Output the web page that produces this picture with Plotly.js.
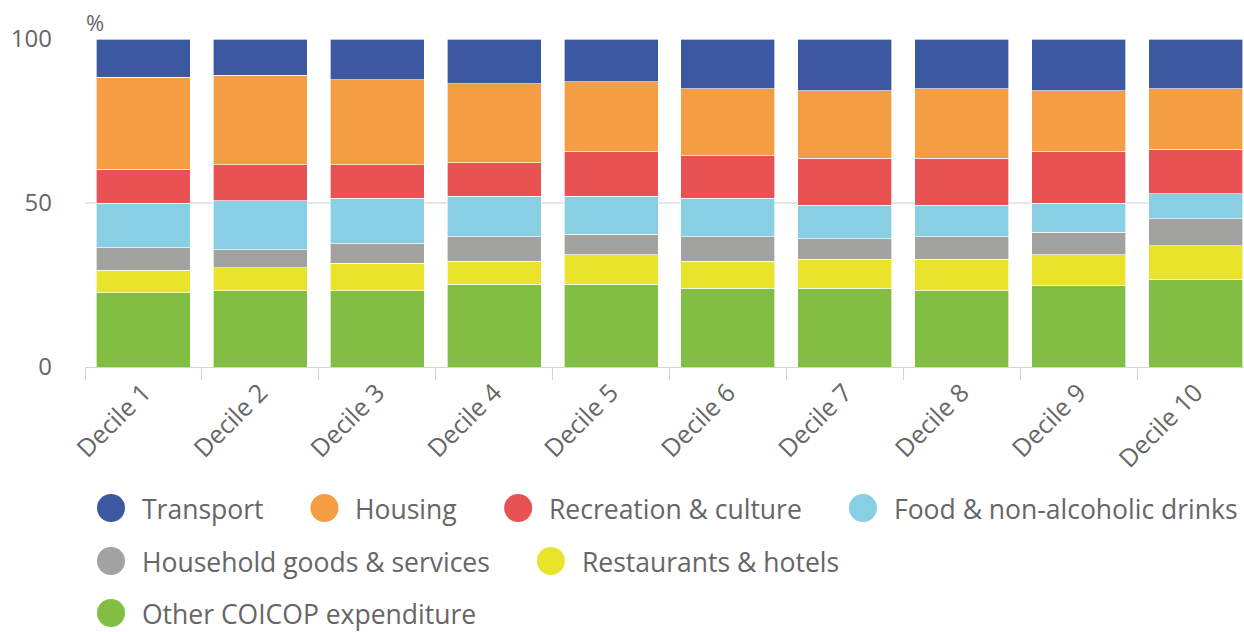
<!DOCTYPE html>
<html>
<head>
<meta charset="utf-8">
<script src="https://cdn.plot.ly/plotly-3.0.1.min.js"></script>
<style>
html,body{margin:0;padding:0;background:#fff;}
#chart{width:1244px;height:632px;}
</style>
</head>
<body>
<div id="chart"></div>
<script>
// ---- data ----
const categories = ["Decile 1","Decile 2","Decile 3","Decile 4","Decile 5","Decile 6","Decile 7","Decile 8","Decile 9","Decile 10"];
const other       = [22.6, 23.3, 23.3, 25.3, 25.3, 24.0, 24.0, 23.3, 24.7, 26.8];
const restaurants = [6.9, 6.9, 8.3, 7.0, 8.9, 8.3, 8.9, 9.6, 9.6, 10.2];
const household   = [6.8, 5.5, 6.0, 7.4, 6.2, 7.4, 6.2, 6.8, 6.8, 8.2];
const food        = [13.7, 15.0, 13.8, 12.3, 11.6, 11.7, 10.2, 9.6, 8.9, 7.6];
const recreation  = [10.3, 10.9, 10.2, 10.3, 13.7, 13.0, 14.4, 14.4, 15.7, 13.6];
const housing     = [28.1, 27.3, 26.0, 24.0, 21.3, 20.4, 20.6, 21.1, 18.6, 18.4];
const transport   = [11.6, 11.1, 12.4, 13.7, 13.0, 15.2, 15.7, 15.2, 15.7, 15.2];
const yTickVals   = [0, 50, 100];

// series, bottom to top of the stack
const seriesNames  = ["Other COICOP expenditure","Restaurants & hotels","Household goods & services","Food & non-alcoholic drinks","Recreation & culture","Housing","Transport"];
const seriesValues = [other, restaurants, household, food, recreation, housing, transport];
const seriesColors = ["#82be44","#e9e42b","#a2a2a1","#89cfe4","#e85253","#f49d43","#3c58a0"];
// legend order (rows) as in the reference
const legendRows = [
  ["Transport","Housing","Recreation & culture","Food & non-alcoholic drinks"],
  ["Household goods & services","Restaurants & hotels"],
  ["Other COICOP expenditure"]
];

// ---- layout constants ----
const W = 1244, H = 632;
const mL = 85, mR = 0, mT = 39, mB = 265;
const plotW = W - mL - mR, plotH = H - mT - mB;
const catStep = 116.9;
const fontFam = '"Open Sans", "Noto Sans", sans-serif';
const txtColor = '#666666';
const legendFont = 26.5;

const traces = seriesNames.map((n, i) => ({
  type: 'bar',
  name: n,
  x: categories,
  y: seriesValues[i],
  marker: {color: seriesColors[i], line: {color: 'rgba(255,255,255,0.8)', width: 0.8}},
  showlegend: false,
  hoverinfo: 'x+y+name'
}));

// custom legend: big circles + text, flowing left to right
const cv = document.createElement('canvas').getContext('2d');
cv.font = legendFont + 'px "Open Sans"';
const shapes = [], annotations = [];
const rowY = [508, 561, 613];
legendRows.forEach((row, r) => {
  let cx = 111;
  row.forEach(name => {
    const idx = seriesNames.indexOf(name);
    const px = (cx - mL) / plotW;
    const py = (mT + plotH - rowY[r]) / plotH;
    shapes.push({type: 'circle', xref: 'paper', yref: 'paper', xsizemode: 'pixel', ysizemode: 'pixel',
      xanchor: px, yanchor: py, x0: -14, x1: 14, y0: -14, y1: 14,
      fillcolor: seriesColors[idx], line: {width: 0}});
    const tx = cx + 30;
    annotations.push({xref: 'paper', yref: 'paper', x: (tx - mL) / plotW, y: py, xanchor: 'left', yanchor: 'middle',
      yshift: -1, text: name, showarrow: false, font: {family: fontFam, size: legendFont, color: txtColor}, borderpad: 0});
    const w = cv.measureText(name).width;
    cx = tx + w + 62;
  });
});
annotations.push({xref: 'paper', yref: 'paper', x: 0, y: 1, xanchor: 'left', yanchor: 'bottom', xshift: -1, yshift: 0,
  text: '%', showarrow: false, font: {family: fontFam, size: 22, color: txtColor}});

const layout = {
  width: W, height: H,
  margin: {l: mL, r: mR, t: mT, b: mB, pad: 0},
  paper_bgcolor: '#ffffff', plot_bgcolor: '#ffffff',
  barmode: 'stack', bargap: 0.196,
  showlegend: false,
  font: {family: fontFam, color: txtColor},
  xaxis: {
    type: 'category', range: [-0.5, -0.5 + plotW / catStep],
    showgrid: false, zeroline: false,
    showline: true, linecolor: '#ccd6eb', linewidth: 1,
    ticks: 'outside', tickson: 'boundaries', ticklen: 12, tickcolor: '#ccd6eb', tickwidth: 1,
    tickangle: -45, tickfont: {family: fontFam, size: 25, color: txtColor},
    fixedrange: true
  },
  yaxis: {
    range: [0, 100], tickvals: yTickVals, ticktext: yTickVals.map(String),
    showgrid: true, gridcolor: '#e6e6e6', gridwidth: 1.5, zeroline: false, showline: false,
    ticks: '', ticklabelstandoff: 32,
    tickfont: {family: fontFam, size: 24, color: txtColor},
    fixedrange: true
  },
  shapes: shapes,
  annotations: annotations
};

Plotly.newPlot('chart', traces, layout, {displayModeBar: false, responsive: false});
</script>
</body>
</html>
